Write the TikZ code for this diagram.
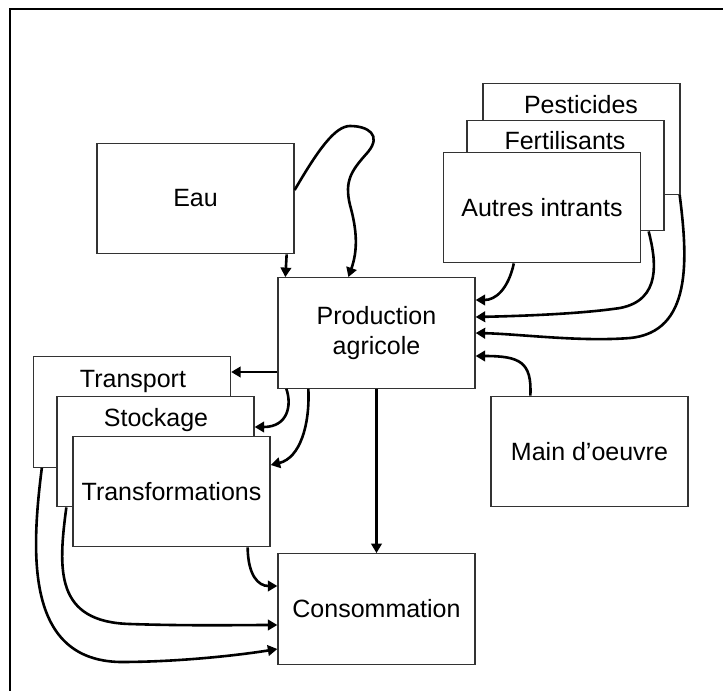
\documentclass[tikz,border=0pt]{standalone}
\usepackage{fontspec}
\setmainfont{Liberation Sans}
\usetikzlibrary{arrows.meta,calc}
\begin{document}
\begin{tikzpicture}[x=1pt,y=-1pt,
  box/.style={draw=black!80, line width=1.3pt, fill=white, inner sep=0pt, rectangle, minimum width=197pt, minimum height=110.5pt, align=center},
  lbl/.style={anchor=base, inner sep=0pt},
  arr/.style={line width=2.6pt, -{Triangle[length=9.5pt,width=10.5pt]}},
  font=\fontsize{25}{29.5}\selectfont]
\useasboundingbox (0,0) rectangle (723,691);
% frame
\draw[line width=2pt] (9,9) -- (723,9);
\draw[line width=1.2pt] (10,9) -- (10,691);
% boxes
\node[box] (eau) at (195.5,198.5) {Eau};
\node[box] (prod) at (376.5,333) {Production\\agricole};
\node[box] (pe) at (581.5,139) {};
\node[lbl] (pet) at (581,113) {Pesticides};
\node[box] (fe) at (565.5,175.5) {};
\node[lbl] (fet) at (565,149) {Fertilisants};
\node[box] (ai) at (542,207.5) {Autres intrants};
\node[box] (mo) at (589.5,451.5) {Main d’oeuvre};
\node[box] (tr) at (132,412) {};
\node[lbl] (trt) at (133,387) {Transport};
\node[box] (st) at (155.5,451.5) {};
\node[lbl] (stt) at (156,426) {Stockage};
\node[box] (tf) at (171.5,491.5) {Transformations};
\node[box] (cons) at (376.5,609) {Consommation};
% connectors
\draw[arr] ($(eau.south east)+(-8,0)$) -- ($(prod.north west)+(8,0)$);
\draw[arr] ($(eau.east)+(0,-8.5)$) .. controls (318,150) and (335,126) .. (350,126)
  .. controls (368,126) and (382,135) .. (368,152)
  .. controls (352,170) and (344,180) .. (350,205)
  .. controls (357,230) and (358,250) .. ($(prod.north west)+(71,0)$);
\coordinate (ptA) at ($(prod.west)+(0,39)$);
\draw[arr] (ptA) -- (ptA -| tr.east);
\draw[arr] ($(prod.south west)+(9,0)$) .. controls (292,405) and (288,427) .. ($(st.east)+(0,-24.5)$);
\draw[arr] ($(prod.south west)+(31,0)$) .. controls (310,425) and (300,458) .. ($(tf.east)+(0,-26.5)$);
\draw[arr] (prod.south) -- (cons.north);
\draw[arr] ($(tf.south east)+(-23,0)$) .. controls (248,575) and (258,586) .. ($(cons.west)+(0,-23)$);
\draw[arr] ($(st.south west)+(10,0)$) .. controls (58,570) and (55,622) .. (130,624)
  .. controls (190,626) and (240,625) .. ($(cons.west)+(0,16)$);
\draw[arr] ($(tr.south west)+(9,0)$) .. controls (30,560) and (28,660) .. (120,662)
  .. controls (180,662) and (240,655) .. ($(cons.west)+(0,40)$);
\draw[arr] ($(ai.south west)+(71,0)$) .. controls (508,290) and (495,300) .. ($(prod.east)+(0,-33)$);
\draw[arr] ($(fe.south east)+(-16,0)$) .. controls (656,260) and (662,300) .. (620,308)
  .. controls (580,314) and (520,316) .. ($(prod.east)+(0,-16)$);
\draw[arr] ($(pe.south east)+(-1,0)$) .. controls (688,260) and (692,332) .. (630,338)
  .. controls (580,342) and (520,334) .. (prod.east);
\draw[arr] ($(mo.north west)+(40,0)$) .. controls (532,362) and (520,356) .. ($(prod.east)+(0,23)$);
\end{tikzpicture}
\end{document}
